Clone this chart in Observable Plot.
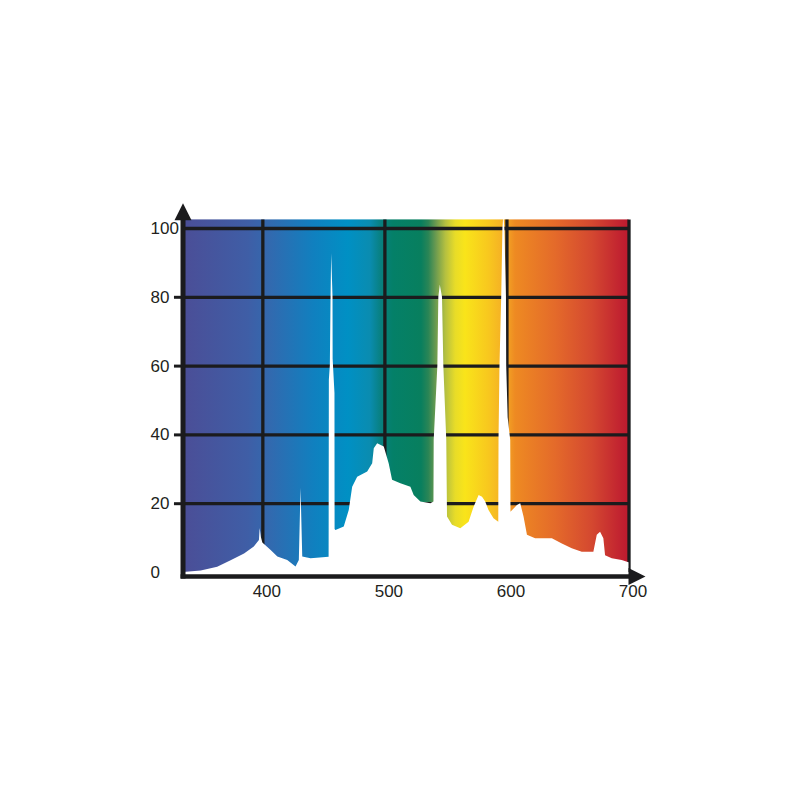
<!DOCTYPE html>
<html>
<head>
<meta charset="utf-8">
<script src="https://cdn.jsdelivr.net/npm/d3@7"></script>
<script src="https://cdn.jsdelivr.net/npm/@observablehq/plot@0.6"></script>
<style>
  html, body { margin: 0; padding: 0; background: #ffffff; }
  #chart { width: 800px; height: 800px; }
</style>
</head>
<body>
<div id="chart"></div>
<script>
// ---- Data ----
const wavelengths = [
  335, 349.5, 363, 374, 385, 393, 397.2, 397.8, 398.8, 400,
  406.8, 412.3, 420.4, 427.2, 429.9, 431.3, 432.7, 439.5, 447, 454.3,
  454.5, 455.3, 455.9, 456.4, 457.5, 457.6, 459.1, 459.2, 459.9, 466.7,
  470.8, 473.6, 477.7, 485.9, 490, 491.3, 494.1, 499.5, 503.5, 506.3,
  513.1, 521.3, 524, 529.5, 537.7, 540.2, 540.4, 543.4, 544.2, 545.4,
  547.2, 548.3, 550.7, 551.3, 555.4, 562.2, 569, 573.1, 577.2, 580,
  582.6, 585.3, 589.4, 593.3, 593.5, 594.3, 595.7, 596.7, 597.5,
  598.3, 599.6, 599.8, 601, 603.1, 603.3, 608.6, 611.3, 614, 616.8,
  623.5, 637.2, 645.4, 653.5, 661.7, 671.2, 674, 676.7, 679.4, 680.8,
  686.3, 694.4, 700
];
const intensity = [
  0, 0.4, 1.5, 3.4, 5.4, 7.4, 9.3, 12.8, 10.2, 8.6,
  6.4, 4.5, 3.5, 1.6, 3.5, 24.5, 4.5, 4.0, 4.2, 4.4,
  55.9, 60, 80, 92.7, 80, 62, 52, 12.5, 12.2, 13.2,
  18.0, 24.8, 27.7, 29.2, 31.6, 36.0, 37.4, 36.5, 31.6, 26.8,
  25.8, 24.8, 22.4, 20.5, 20.0, 20.5, 38.4, 60, 80, 83.5,
  80, 60, 38.4, 16.1, 13.7, 12.7, 14.6, 19.0, 22.4, 21.9,
  20.5, 18.0, 15.6, 14.6, 38.4, 60, 80, 100, 104,
  100, 80, 60, 45, 38.4, 17.5, 19.5, 20.0, 16.1, 10.8,
  9.8, 9.8, 8.3, 6.9, 5.9, 5.9, 10.8, 11.7, 9.8, 4.9,
  4.0, 3.5, 2.8
];
const gradientWavelengths = [335, 388, 404, 442, 470, 488, 497, 507, 530, 536, 542, 550, 558, 566, 585, 597, 607, 640, 670, 695, 700];
const gradientColors = ["#4b4e97", "#3f5ea6", "#3468ae", "#1080bf", "#0090c4", "#0a8cb0", "#088080", "#048068", "#087f5e", "#2a8556", "#6a9a50", "#b5c040", "#e8dc28", "#f9e41a", "#f8c81e", "#f5b025", "#ee8a22", "#e46a2a", "#d44830", "#c02030", "#bd1a2e"];
const xTickLabels = [400, 500, 600, 700];
const yTickLabels = [0, 20, 40, 60, 80, 100];
const xGridLines = [400, 500, 600, 700];
const yGridLines = [20, 40, 60, 80, 100];
const yTickDashes = [20, 40, 60, 80];

// ---- Build ----
const spectrum = wavelengths.map((w, i) => ({w, v: intensity[i]}));
const xMin = 335, xMax = 700, gradTop = 102.5;
const ink = "#1b1b1d";

const arrowUp = {draw(ctx, size) {
  const r = Math.sqrt(size / Math.PI);
  ctx.moveTo(0, -r); ctx.lineTo(0.85 * r, 0.7 * r); ctx.lineTo(-0.85 * r, 0.7 * r); ctx.closePath();
}};
const arrowRight = {draw(ctx, size) {
  const r = Math.sqrt(size / Math.PI);
  ctx.moveTo(r, 0); ctx.lineTo(-0.7 * r, -0.85 * r); ctx.lineTo(-0.7 * r, 0.85 * r); ctx.closePath();
}};

const chart = Plot.plot({
  width: 800,
  height: 800,
  marginLeft: 183,
  marginRight: 171.5,
  marginTop: 228,
  marginBottom: 228,
  x: {domain: [xMin, xMax], axis: null},
  y: {domain: [0, 100], axis: null},
  style: {background: "#ffffff", fontFamily: "'Liberation Sans', Arial, Helvetica, sans-serif"},
  marks: [
    Plot.rect([{x1: xMin, x2: xMax, y1: 0, y2: gradTop}], {x1: "x1", x2: "x2", y1: "y1", y2: "y2", fill: "url(#spectrumGradient)"}),
    Plot.ruleY(yGridLines, {x1: xMin, x2: xMax, stroke: ink, strokeWidth: 3.3}),
    Plot.ruleX(xGridLines, {y1: 0, y2: gradTop, stroke: ink, strokeWidth: 3.3}),
    Plot.areaY(spectrum, {x: "w", y1: -1, y2: "v", fill: "#ffffff", curve: "linear"}),
    Plot.ruleY(yTickDashes, {x1: 327.6, x2: 335, stroke: ink, strokeWidth: 3}),
    Plot.ruleY([-1.16], {x1: 333, x2: 702, stroke: ink, strokeWidth: 4.5}),
    Plot.ruleX([334.6], {y1: -1.9, y2: 103, stroke: ink, strokeWidth: 5}),
    Plot.dot([{x: 334.6, y: 104.4}], {x: "x", y: "y", symbol: arrowUp, r: 10, fill: ink, stroke: "none"}),
    Plot.dot([{x: 705.3, y: -1.16}], {x: "x", y: "y", symbol: arrowRight, r: 10, fill: ink, stroke: "none"}),
    Plot.text(yTickLabels, {x: xMin, y: d => d, text: d => String(d), textAnchor: "start", dx: -33, fontSize: 17, fill: "#231f20"}),
    Plot.text(xTickLabels, {x: d => d, y: 0, text: d => String(d), dx: 4, dy: 19, fontSize: 17, fill: "#231f20"})
  ]
});

// Linear gradient for the spectrum background, stops from the arrays above
const ns = "http://www.w3.org/2000/svg";
const defs = document.createElementNS(ns, "defs");
const lg = document.createElementNS(ns, "linearGradient");
lg.setAttribute("id", "spectrumGradient");
lg.setAttribute("x1", "0"); lg.setAttribute("x2", "1");
lg.setAttribute("y1", "0"); lg.setAttribute("y2", "0");
gradientWavelengths.forEach((w, i) => {
  const s = document.createElementNS(ns, "stop");
  s.setAttribute("offset", ((w - xMin) / (xMax - xMin)).toFixed(4));
  s.setAttribute("stop-color", gradientColors[i]);
  lg.appendChild(s);
});
defs.appendChild(lg);
chart.insertBefore(defs, chart.firstChild);

document.getElementById("chart").appendChild(chart);
</script>
</body>
</html>
